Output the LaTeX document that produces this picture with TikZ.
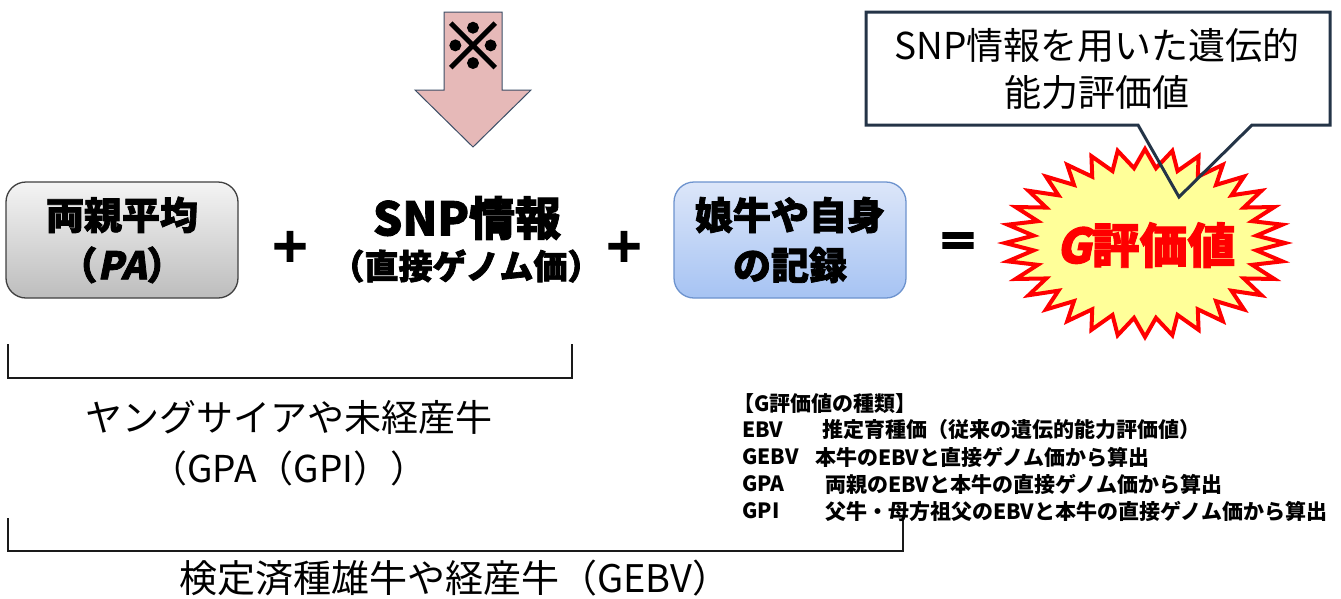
\documentclass[tikz,border=0pt]{standalone}
\usepackage{fontspec}
\setmainfont{Noto Sans CJK JP}
\newfontfamily\heavy{Noto Sans CJK JP}[BoldFeatures={FakeBold=2}]
\newfontfamily\heavier{Noto Sans CJK JP}[BoldFeatures={FakeBold=4}]
\newfontfamily\heavyslant{Noto Sans CJK JP}[FakeSlant=0.2,BoldFeatures={FakeBold=2}]
\definecolor{arrowpink}{HTML}{E6B9B8}
\definecolor{arrowline}{HTML}{3C4E66}
\definecolor{pabord}{HTML}{404040}
\definecolor{patop}{HTML}{F4F4F4}
\definecolor{pabot}{HTML}{BDBDBD}
\definecolor{bltop}{HTML}{DCE6F9}
\definecolor{blbot}{HTML}{A6C3F3}
\definecolor{blbord}{HTML}{6D93CE}
\definecolor{burstyellow}{HTML}{FFFF99}
\definecolor{callline}{HTML}{243447}
\definecolor{brk}{HTML}{1A1A1A}
\tikzset{
  termbox/.style={rounded corners=20pt, minimum width=232pt, minimum height=116pt,
    align=center, inner sep=0pt, line width=1.3pt,
    font=\heavy\bfseries\fontsize{38}{50}\selectfont},
  pabox/.style={termbox, draw=pabord, top color=patop, bottom color=pabot},
  bluebox/.style={termbox, draw=blbord, top color=bltop, bottom color=blbot},
  opsign/.style={font=\heavier\bfseries\fontsize{42}{42}\selectfont, inner sep=0pt},
  bracketline/.style={draw=brk, line width=2.4pt},
  bigtext/.style={font=\fontsize{37}{51}\selectfont, align=center, inner sep=0pt},
  legend/.style={font=\bfseries\fontsize{21}{24}\selectfont, anchor=west, inner sep=0pt},
}
\begin{document}
\begin{tikzpicture}[x=1pt,y=-1pt]
\useasboundingbox (0,0) rectangle (1341,598);
\fill[white] (0,0) rectangle (1341,598);
% arrow
\draw[fill=arrowpink, draw=arrowline, line width=1pt, line join=miter]
  (444,12) -- (502,12) -- (502,90) -- (531,90) -- (473,147) -- (415,90) -- (444,90) -- cycle;
\node[font=\heavier\bfseries\fontsize{62}{62}\selectfont, inner sep=0pt] (mark) at (473,46) {※};
% boxes and operators
\node[pabox] (pa) at (122,240) {両親平均\\（{\heavyslant\bfseries PA}）};
\node[opsign] (plus1) at (290,247) {＋};
\node[font=\heavy\bfseries\fontsize{46}{50}\selectfont, inner sep=0pt] (snp) at (467,218) {SNP情報};
\node[font=\heavy\bfseries\fontsize{34}{36}\selectfont, inner sep=0pt] (snpsub) at (466,266) {（直接ゲノム価）};
\node[opsign] (plus2) at (624,247) {＋};
\node[bluebox] (rec) at (790,240) {娘牛や自身\\の記録};
\node[opsign] (eq) at (958,245) {＝};
% burst
\draw[line width=4pt, draw=red, fill=burstyellow, line join=miter]
  (1285,243) \foreach \i in {1,...,63}{
    -- ({1145+140*(1-0.2*mod(\i,2))*cos(\i*5.625)}, {243+94*(1-0.2*mod(\i,2))*sin(\i*5.625)})
  } -- cycle;
\node[font=\heavy\bfseries\fontsize{48}{48}\selectfont, text=red, inner sep=0pt] (gval) at (1146,245) {{\heavyslant\bfseries G}評価値};
% callout
\draw[draw=callline, line width=3pt, line join=miter]
  (866,12) -- (1330,12) -- (1330,125) -- (1252,125) -- (1179,197) -- (1138,125) -- (866,125) -- cycle;
\node[font=\fontsize{37}{47}\selectfont, align=center, inner sep=0pt] (calltext) at (1097,69)
  {SNP情報を用いた遺伝的\\能力評価値};
% brackets
\coordinate (b1a) at (8,344);
\coordinate (b1b) at (572,344);
\draw[bracketline] (b1a) |- (b1b |- 0,378) -- (b1b);
\coordinate (b2a) at (8,518);
\coordinate (b2b) at (903,518);
\draw[bracketline] (b2a) |- (b2b |- 0,551) -- (b2b);
\node[bigtext] (young) at (289,443) {ヤングサイアや未経産牛\\（GPA（GPI））};
\node[bigtext, font=\fontsize{38}{51}\selectfont] (proven) at (455,578) {検定済種雄牛や経産牛（GEBV）};
% legend
\node[legend] (lh) at (733,404) {【G評価値の種類】};
\node[legend] (l1a) at (742,430) {EBV};
\node[legend] (l1b) at (822,430) {推定育種価（従来の遺伝的能力評価値）};
\node[legend] (l2a) at (742,457) {GEBV};
\node[legend] (l2b) at (815,457) {本牛のEBVと直接ゲノム価から算出};
\node[legend] (l3a) at (742,484) {GPA};
\node[legend] (l3b) at (825,484) {両親のEBVと本牛の直接ゲノム価から算出};
\node[legend] (l4a) at (742,511) {GPI};
\node[legend] (l4b) at (825,511) {父牛・母方祖父のEBVと本牛の直接ゲノム価から算出};
\end{tikzpicture}
\end{document}
